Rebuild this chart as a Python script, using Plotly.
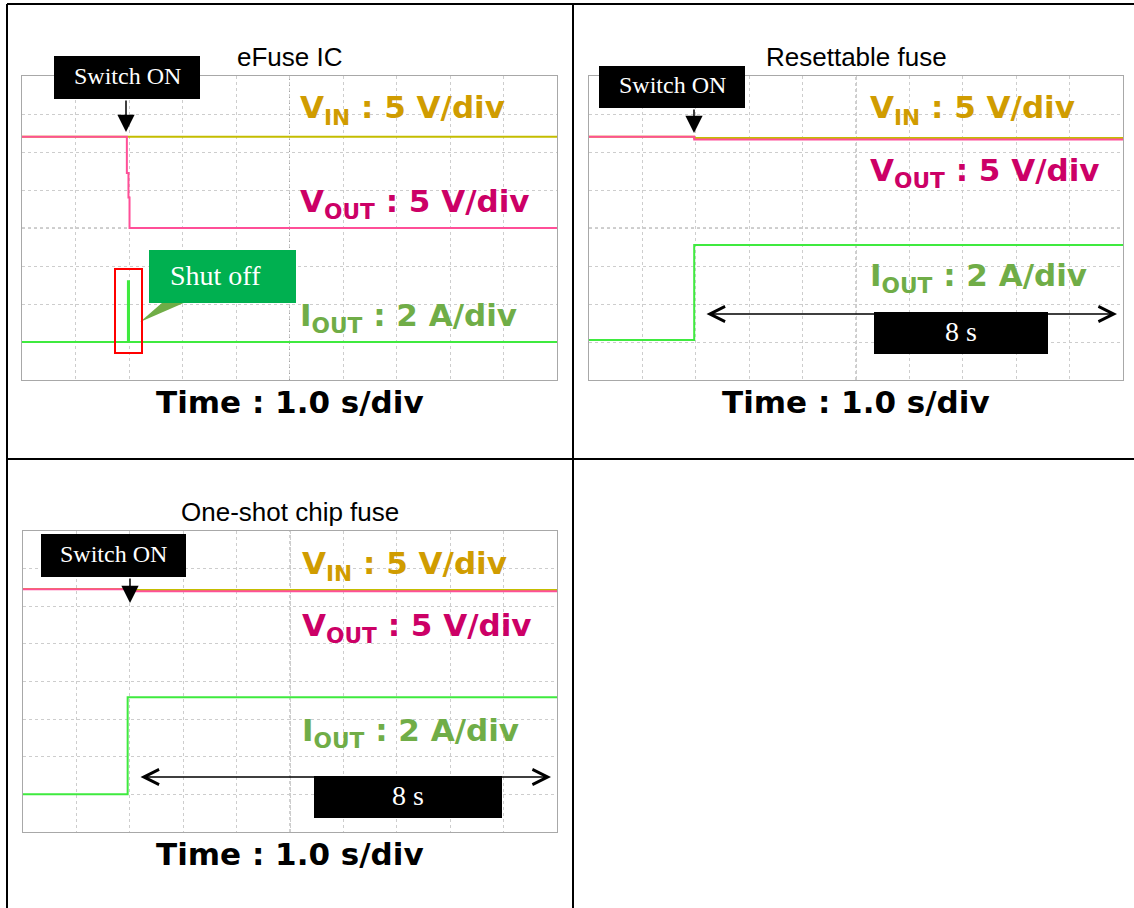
import plotly.graph_objects as go

W, H = 1134, 908

# time axis in divisions (1.0 s/div), vertical axis in divisions (centre = 0)
efuse_t_vin = [0, 10]
efuse_vin = [2.4, 2.4]
efuse_t_vout = [0, 1.96, 1.96, 1.99, 1.99, 2.01, 2.01, 10]
efuse_vout = [2.4, 2.4, 1.45, 1.45, 0.8, 0.8, 0.0, 0.0]
efuse_t_iout = [0, 1.98, 1.98, 2.0, 2.0, 10]
efuse_iout = [-3.0, -3.0, -1.4, -1.4, -3.0, -3.0]

reset_t = [0, 1.97, 1.97, 10]
reset_vin = [2.4, 2.4, 2.37, 2.37]
reset_vout = [2.4, 2.4, 2.33, 2.33]
reset_iout = [-2.95, -2.95, -0.45, -0.45]

oneshot_t = [0, 1.96, 1.96, 10]
oneshot_vin = [2.46, 2.46, 2.43, 2.43]
oneshot_vout = [2.45, 2.45, 2.4, 2.4]
oneshot_iout = [-3.0, -3.0, -0.42, -0.42]

titles = ["eFuse IC", "Resettable fuse", "One-shot chip fuse"]
vin_label = "V<sub>IN</sub> : 5 V/div"
vout_label = "V<sub>OUT</sub> : 5 V/div"
iout_label = "I<sub>OUT</sub> : 2 A/div"
time_label = "Time : 1.0 s/div"

VIN_C = "#c4bd00"
VOUT_C = "#ff4f98"
IOUT_C = "#3fea3f"
VIN_TXT = "#d09c00"
VOUT_TXT = "#cc0066"
IOUT_TXT = "#70ad47"


def fx(x):
    return x / W


def fy(y):
    return 1 - y / H


# pixel boxes of the three scope screens: x0, y0, x1, y1
panels = [(22, 76, 557, 380), (589, 76, 1123, 380), (23, 531, 557, 832)]

fig = go.Figure()

series = [
    [(efuse_t_vin, efuse_vin, VIN_C), (efuse_t_vout, efuse_vout, VOUT_C), (efuse_t_iout, efuse_iout, IOUT_C)],
    [(reset_t, reset_vin, VIN_C), (reset_t, reset_vout, VOUT_C), (reset_t, reset_iout, IOUT_C)],
    [(oneshot_t, oneshot_vin, VIN_C), (oneshot_t, oneshot_vout, VOUT_C), (oneshot_t, oneshot_iout, IOUT_C)],
]

layout = dict(width=W, height=H, margin=dict(l=0, r=0, t=0, b=0), paper_bgcolor="white",
              plot_bgcolor="white", showlegend=False)
shapes = []
annotations = []

for k, (x0, y0, x1, y1) in enumerate(panels, start=1):
    sx = "" if k == 1 else str(k)
    for t, v, c in series[k - 1]:
        fig.add_trace(go.Scatter(x=t, y=v, mode="lines", line=dict(color=c, width=2),
                                 xaxis="x" + sx, yaxis="y" + sx, hoverinfo="skip"))
    layout["xaxis" + sx] = dict(domain=[fx(x0), fx(x1)], anchor="y" + sx, range=[0, 10], dtick=1, tick0=0,
                                showgrid=True, gridcolor="#cdcdcd", griddash="dot", gridwidth=1,
                                showticklabels=False, zeroline=False, showline=True, mirror=True,
                                linecolor="#a8a8a8", linewidth=1, fixedrange=True)
    layout["yaxis" + sx] = dict(domain=[fy(y1), fy(y0)], anchor="x" + sx, range=[-4, 4], dtick=1, tick0=0,
                                showgrid=True, gridcolor="#cdcdcd", griddash="dot", gridwidth=1,
                                showticklabels=False, zeroline=False, showline=True, mirror=True,
                                linecolor="#a8a8a8", linewidth=1, fixedrange=True)
    # centre cross lines with small graduation ticks
    cx = (x0 + x1) / 2
    cy = (y0 + y1) / 2
    layout["xaxis" + str(k + 3)] = dict(overlaying="x" + sx, anchor="free", position=fy(cy), range=[0, 10],
                                        dtick=0.2, tick0=0, ticks="inside", ticklen=3, tickcolor="#9a9a9a",
                                        showticklabels=False, showgrid=False, zeroline=False, showline=False,
                                        fixedrange=True)
    layout["yaxis" + str(k + 3)] = dict(overlaying="y" + sx, anchor="free", position=fx(cx), range=[-4, 4],
                                        dtick=0.2, tick0=0, ticks="inside", ticklen=3, tickcolor="#9a9a9a",
                                        showticklabels=False, showgrid=False, zeroline=False, showline=False,
                                        fixedrange=True)
    shapes.append(dict(type="line", xref="x" + sx, yref="y" + sx, x0=5, x1=5, y0=-4, y1=4,
                       line=dict(color="#a0a0a0", width=1, dash="dot"), layer="below"))
    shapes.append(dict(type="line", xref="x" + sx, yref="y" + sx, x0=0, x1=10, y0=0, y1=0,
                       line=dict(color="#a0a0a0", width=1, dash="dot"), layer="below"))

    # panel title and time base
    annotations.append(dict(xref="paper", yref="paper", x=fx(cx), y=fy(y0 - 19), text=titles[k - 1],
                            showarrow=False, xanchor="center", yanchor="middle",
                            font=dict(family="Liberation Sans, Arial", size=26, color="black")))
    annotations.append(dict(xref="paper", yref="paper", x=fx(cx), y=fy(y1 + 22), text="<b>" + time_label + "</b>",
                            showarrow=False, xanchor="center", yanchor="middle",
                            font=dict(family="DejaVu Sans", size=31, color="black")))

# channel labels: x start, y of VIN, VOUT, IOUT (pixels)
label_pos = [(298, 110, 204, 317), (868, 110, 172, 277), (300, 565, 627, 732)]
for lx, yv, yo, yi in label_pos:
    for txt, yy, col in [(vin_label, yv, VIN_TXT), (vout_label, yo, VOUT_TXT), (iout_label, yi, IOUT_TXT)]:
        annotations.append(dict(xref="paper", yref="paper", x=fx(lx), y=fy(yy), text="<b>" + txt + "</b>",
                                showarrow=False, xanchor="left", yanchor="middle",
                                font=dict(family="DejaVu Sans", size=31, color=col)))


def black_box(x0, y0, x1, y1, text, size):
    shapes.append(dict(type="rect", xref="paper", yref="paper", x0=fx(x0), x1=fx(x1), y0=fy(y1), y1=fy(y0),
                       fillcolor="black", line=dict(width=0)))
    annotations.append(dict(xref="paper", yref="paper", x=fx((x0 + x1) / 2), y=fy((y0 + y1) / 2 - 2), text=text,
                            showarrow=False, xanchor="center", yanchor="middle",
                            font=dict(family="Liberation Serif, Times New Roman", size=size, color="white")))


def down_arrow(x, y_from, y_to):
    annotations.append(dict(xref="paper", yref="paper", x=fx(x), y=fy(y_to), ax=0, ay=-(y_to - y_from),
                            text="", showarrow=True, arrowhead=2, arrowsize=2.3, arrowwidth=1.5,
                            arrowcolor="black", standoff=0))


def span_arrow(x_from, x_to, y):
    annotations.append(dict(xref="paper", yref="paper", x=fx(x_to), y=fy(y), ax=-(x_to - x_from), ay=0,
                            text="", showarrow=True, arrowhead=5, startarrowhead=5, arrowside="end+start",
                            arrowsize=2, startarrowsize=2, arrowwidth=1.5, arrowcolor="black",
                            standoff=0, startstandoff=0))


# Switch ON markers
black_box(54, 56, 200, 99, "Switch ON", 24)
down_arrow(126, 99, 132)
black_box(599, 66, 745, 108, "Switch ON", 24)
down_arrow(694, 108, 133)
black_box(41, 534, 186, 577, "Switch ON", 24)
down_arrow(130, 577, 603)

# 8 s spans
span_arrow(705, 1117, 314)
black_box(874, 312, 1048, 354, "8 s", 28)
span_arrow(139, 551, 777)
black_box(314, 776, 502, 818, "8 s", 28)

# Shut off callout on the eFuse current spike
shapes.append(dict(type="path", xref="paper", yref="paper",
                   path="M {} {} L {} {} L {} {} Z".format(fx(163), fy(302), fx(186), fy(302), fx(140), fy(322)),
                   fillcolor="#70ad47", line=dict(width=0)))
shapes.append(dict(type="rect", xref="paper", yref="paper", x0=fx(149), x1=fx(296), y0=fy(303), y1=fy(250),
                   fillcolor="#00b050", line=dict(width=0)))
annotations.append(dict(xref="paper", yref="paper", x=fx(215), y=fy(276), text="Shut off", showarrow=False,
                        xanchor="center", yanchor="middle",
                        font=dict(family="Liberation Serif, Times New Roman", size=28, color="white")))
shapes.append(dict(type="rect", xref="paper", yref="paper", x0=fx(115), x1=fx(142), y0=fy(353), y1=fy(269),
                   line=dict(color="#ff0000", width=2), fillcolor="rgba(0,0,0,0)"))

# table borders
for x0, y0, x1, y1 in [(7, 4, 1134, 4), (7, 4, 7, 908), (573, 4, 573, 908), (7, 459, 1134, 459)]:
    shapes.append(dict(type="line", xref="paper", yref="paper", x0=fx(x0), x1=fx(x1), y0=fy(y0), y1=fy(y1),
                       line=dict(color="black", width=2)))

layout["shapes"] = shapes
layout["annotations"] = annotations
fig.update_layout(**layout)

# page margin removed so the figure sits at the window origin
fig.write_html("out.html", config={"displayModeBar": False},
               post_script="document.body.style.margin='0';document.body.style.overflow='hidden';")
